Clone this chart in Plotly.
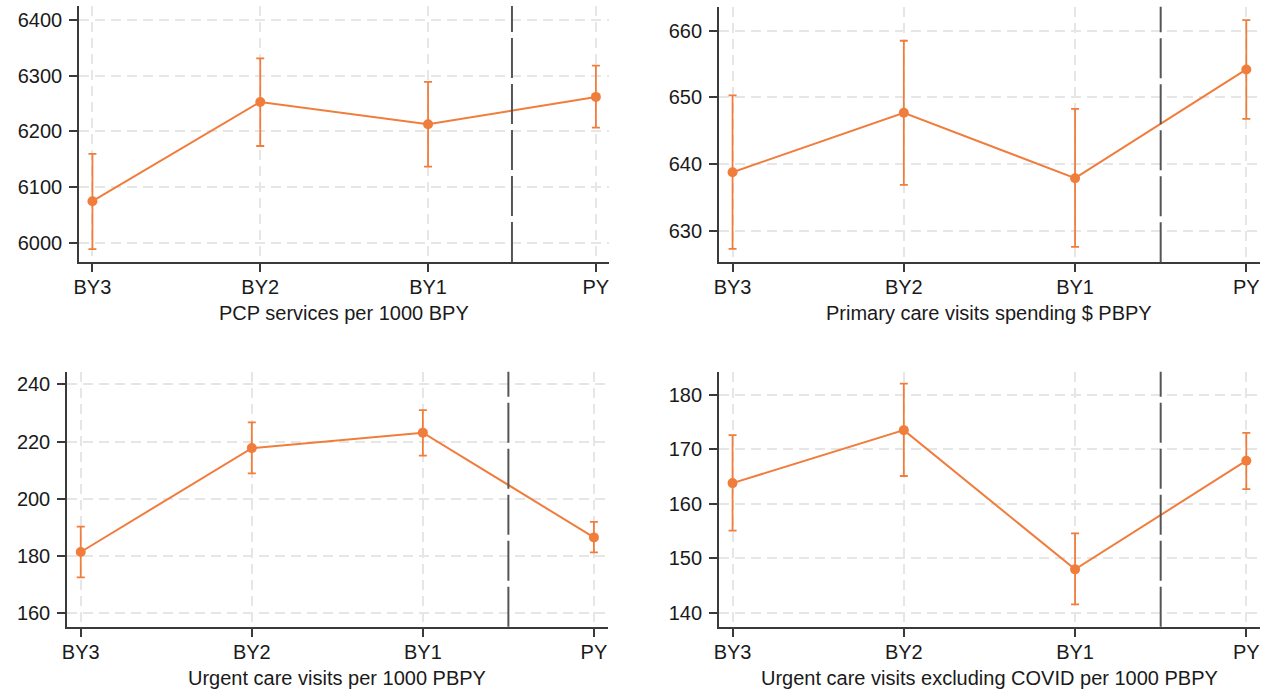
import plotly.graph_objects as go

# Study periods (three baseline years and the performance year)
periods = ["BY3", "BY2", "BY1", "PY"]

# PCP services per 1000 BPY
pcp_mean = [6075, 6253, 6213, 6262]
pcp_low = [5989, 6174, 6137, 6207]
pcp_high = [6160, 6331, 6289, 6318]

# Primary care visits spending $ PBPY
spend_mean = [638.8, 647.7, 637.9, 654.2]
spend_low = [627.3, 636.9, 627.6, 646.8]
spend_high = [650.3, 658.5, 648.3, 661.6]

# Urgent care visits per 1000 PBPY
urgent_mean = [181.4, 217.7, 223.1, 186.5]
urgent_low = [172.5, 208.9, 215.1, 181.3]
urgent_high = [190.3, 226.7, 231.0, 191.9]

# Urgent care visits excluding COVID per 1000 PBPY
urgent_nc_mean = [163.8, 173.5, 148.0, 167.9]
urgent_nc_low = [155.1, 165.1, 141.6, 162.7]
urgent_nc_high = [172.6, 182.0, 154.6, 173.0]

titles = [
    "PCP services per 1000 BPY",
    "Primary care visits spending $ PBPY",
    "Urgent care visits per 1000 PBPY",
    "Urgent care visits excluding COVID per 1000 PBPY",
]
y_ticks = [
    [6000, 6100, 6200, 6300, 6400],
    [630, 640, 650, 660],
    [160, 180, 200, 220, 240],
    [140, 150, 160, 170, 180],
]
y_ranges = [[5966, 6425], [625.3, 663.6], [155.3, 244.4], [137.5, 184.2]]

W, H = 1262, 692
ORANGE = "#F07D3C"
AXIS = "#3a3a3a"
GRID = "#e6e6e6"
FONT = "Liberation Sans, Arial, sans-serif"

# plot-area boxes in pixels: (left, right, top, bottom)
boxes = [
    (74.3, 606.7, 6.0, 262.0),
    (716.7, 1260.0, 6.7, 262.3),
    (62.3, 605.0, 371.7, 626.7),
    (716.7, 1260.0, 371.7, 626.7),
]

series = [
    (pcp_mean, pcp_low, pcp_high),
    (spend_mean, spend_low, spend_high),
    (urgent_mean, urgent_low, urgent_high),
    (urgent_nc_mean, urgent_nc_low, urgent_nc_high),
]

fig = go.Figure()
annotations = []
shapes = []

for i, ((mean, low, high), box) in enumerate(zip(series, boxes)):
    n = "" if i == 0 else str(i + 1)
    xa, ya = "x" + n, "y" + n
    left, right, top, bottom = box
    fig.add_trace(
        go.Scatter(
            x=periods,
            y=mean,
            xaxis=xa,
            yaxis=ya,
            mode="lines+markers",
            line=dict(color=ORANGE, width=2),
            marker=dict(color=ORANGE, size=10),
            error_y=dict(
                type="data",
                symmetric=False,
                array=[h - m for h, m in zip(high, mean)],
                arrayminus=[m - l for m, l in zip(mean, low)],
                color=ORANGE,
                thickness=1.8,
                width=4,
            ),
            showlegend=False,
            cliponaxis=False,
        )
    )
    common_axis = dict(
        showline=True,
        linecolor=AXIS,
        linewidth=1.6,
        ticks="outside",
        ticklen=8,
        tickwidth=1.5,
        tickcolor=AXIS,
        showgrid=True,
        gridcolor=GRID,
        gridwidth=1.5,
        griddash="10px,6px",
        zeroline=False,
        tickfont=dict(family=FONT, size=20, color="#1a1a1a"),
    )
    fig.update_layout(
        **{
            ("xaxis" + n): dict(
                common_axis,
                type="category",
                domain=[left / W, right / W],
                anchor=ya,
                range=[-0.08, 3.08],
                ticklabelstandoff=-2,
            ),
            ("yaxis" + n): dict(
                common_axis,
                domain=[1 - bottom / H, 1 - top / H],
                anchor=xa,
                range=y_ranges[i],
                tickvals=y_ticks[i],
                ticklabelstandoff=3,
            ),
        }
    )
    # boundary between baseline years and performance year
    shapes.append(
        dict(
            type="line",
            xref=xa,
            yref=ya + " domain",
            x0=2.5,
            x1=2.5,
            y0=0,
            y1=1,
            line=dict(color="#555555", width=2, dash="40px,6px"),
            layer="above",
        )
    )
    annotations.append(
        dict(
            text=titles[i],
            xref="paper",
            yref="paper",
            x=(left + right) / 2 / W,
            y=1 - (bottom + 51) / H,
            xanchor="center",
            yanchor="middle",
            showarrow=False,
            font=dict(family=FONT, size=20, color="#1a1a1a"),
        )
    )

fig.update_layout(
    width=W,
    height=H,
    margin=dict(l=0, r=0, t=0, b=0),
    paper_bgcolor="white",
    plot_bgcolor="white",
    annotations=annotations,
    shapes=shapes,
    font=dict(family=FONT),
)

fig.write_html("out.html")
